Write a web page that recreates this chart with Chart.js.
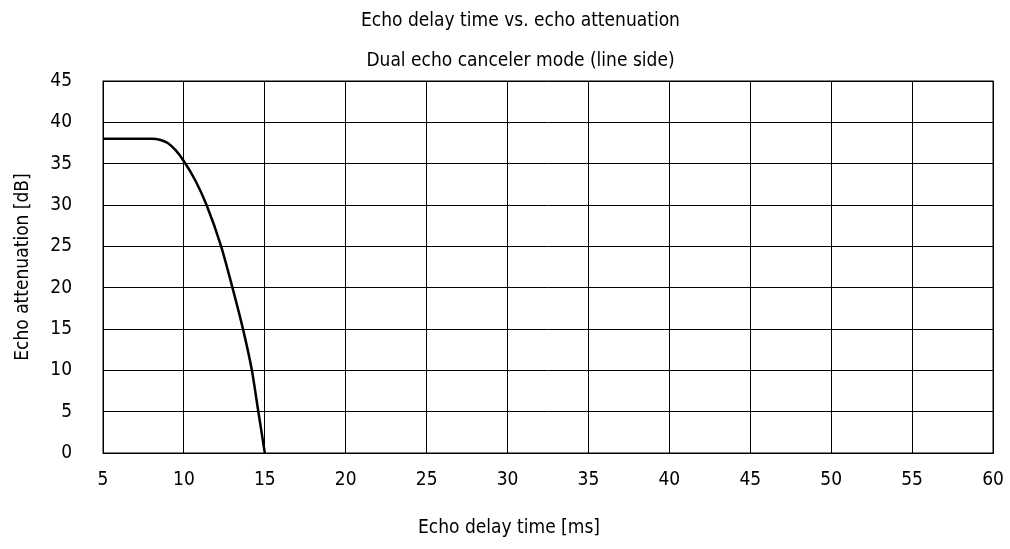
<!DOCTYPE html>
<html lang="en">
<head>
  <meta charset="UTF-8">
  <title>Echo delay time vs. echo attenuation</title>
  <script src="https://cdn.jsdelivr.net/npm/chart.js"></script>
  <style>
    body { margin: 0; background: #fff; }
  </style>
</head>
<body>
  <canvas id="echoCanvas" width="1010" height="549"></canvas>

  <script>
    // curve
    const delayMs = [5, 8, 8.5, 9, 9.5, 10, 10.7, 11.4, 12.3, 13, 13.65, 14.2, 14.6, 15];
    const attenuationDb = [38, 38, 37.9, 37.5, 36.6, 35.3, 33, 30, 25, 20, 15, 10, 5, 0];

    const xTicks = [5, 10, 15, 20, 25, 30, 35, 40, 45, 50, 55, 60];
    const yTicks = [0, 5, 10, 15, 20, 25, 30, 35, 40, 45];

    const titleLines = ['Echo delay time vs. echo attenuation', 'Dual echo canceler mode (line side)'];

    const fontFamily = '"Liberation Sans Narrow", "DejaVu Sans Condensed", "Roboto", sans-serif';
    Chart.defaults.font.family = fontFamily;
    Chart.defaults.font.size = 19;
    Chart.defaults.color = '#000';

    const points = delayMs.map((x, i) => ({ x: x, y: attenuationDb[i] }));

    const ctx = document.getElementById('echoCanvas').getContext('2d');
    const chart = new Chart(ctx, {
      type: 'line',
      data: {
        datasets: [{
          data: points,
          borderColor: '#000',
          borderWidth: 2.5,
          pointRadius: 0,
          fill: false,
          cubicInterpolationMode: 'monotone'
        }]
      },
      options: {
        responsive: false,
        animation: false,
        layout: { padding: { left: 0, right: 17, top: 1, bottom: 0 } },
        plugins: {
          legend: { display: false },
          tooltip: { enabled: false },
          title: {
            display: true,
            text: titleLines,
            color: '#000',
            font: { size: 19, weight: 'normal', lineHeight: 40 / 19 },
            padding: 0
          }
        },
        scales: {
          x: {
            type: 'linear',
            min: 5,
            max: 60,
            afterBuildTicks: s => { s.ticks = xTicks.map(v => ({ value: v })); },
            afterFit: s => { s.height = 96; s.paddingLeft = 0; s.paddingRight = 0; },
            grid: { color: '#000', lineWidth: 1, drawTicks: false },
            border: { color: '#000', width: 1 },
            ticks: { padding: 16, maxRotation: 0 },
            title: { display: true, text: 'Echo delay time [ms]', padding: { top: 0, bottom: 10 } }
          },
          y: {
            min: 0,
            max: 45,
            afterBuildTicks: s => { s.ticks = yTicks.map(v => ({ value: v })); },
            afterFit: s => { s.width = 103; },
            grid: { color: '#000', lineWidth: 1, drawTicks: false },
            border: { color: '#000', width: 1 },
            ticks: { padding: 31 },
            title: { display: true, text: 'Echo attenuation [dB]', padding: { top: 12, bottom: 0 } }
          }
        }
      },
      plugins: [{
        // titles in the original sit a bit off the plot centre
        id: 'titleShift',
        afterLayout(chart) {
          if (chart.titleBlock) chart.titleBlock.left = 48;
          const xs = chart.scales.x;
          if (!xs._origDrawTitle) {
            xs._origDrawTitle = xs.drawTitle;
            xs.drawTitle = function () {
              const c = this.ctx;
              c.save();
              c.translate(-39, 0);
              this._origDrawTitle();
              c.restore();
            };
          }
        },
        // close the frame on the top and right
        afterDraw(chart) {
          const a = chart.chartArea, c = chart.ctx;
          c.save();
          c.strokeStyle = '#000';
          c.lineWidth = 1;
          c.strokeRect(a.left, a.top, a.right - a.left, a.bottom - a.top);
          c.restore();
        }
      }]
    });
  </script>
</body>
</html>
